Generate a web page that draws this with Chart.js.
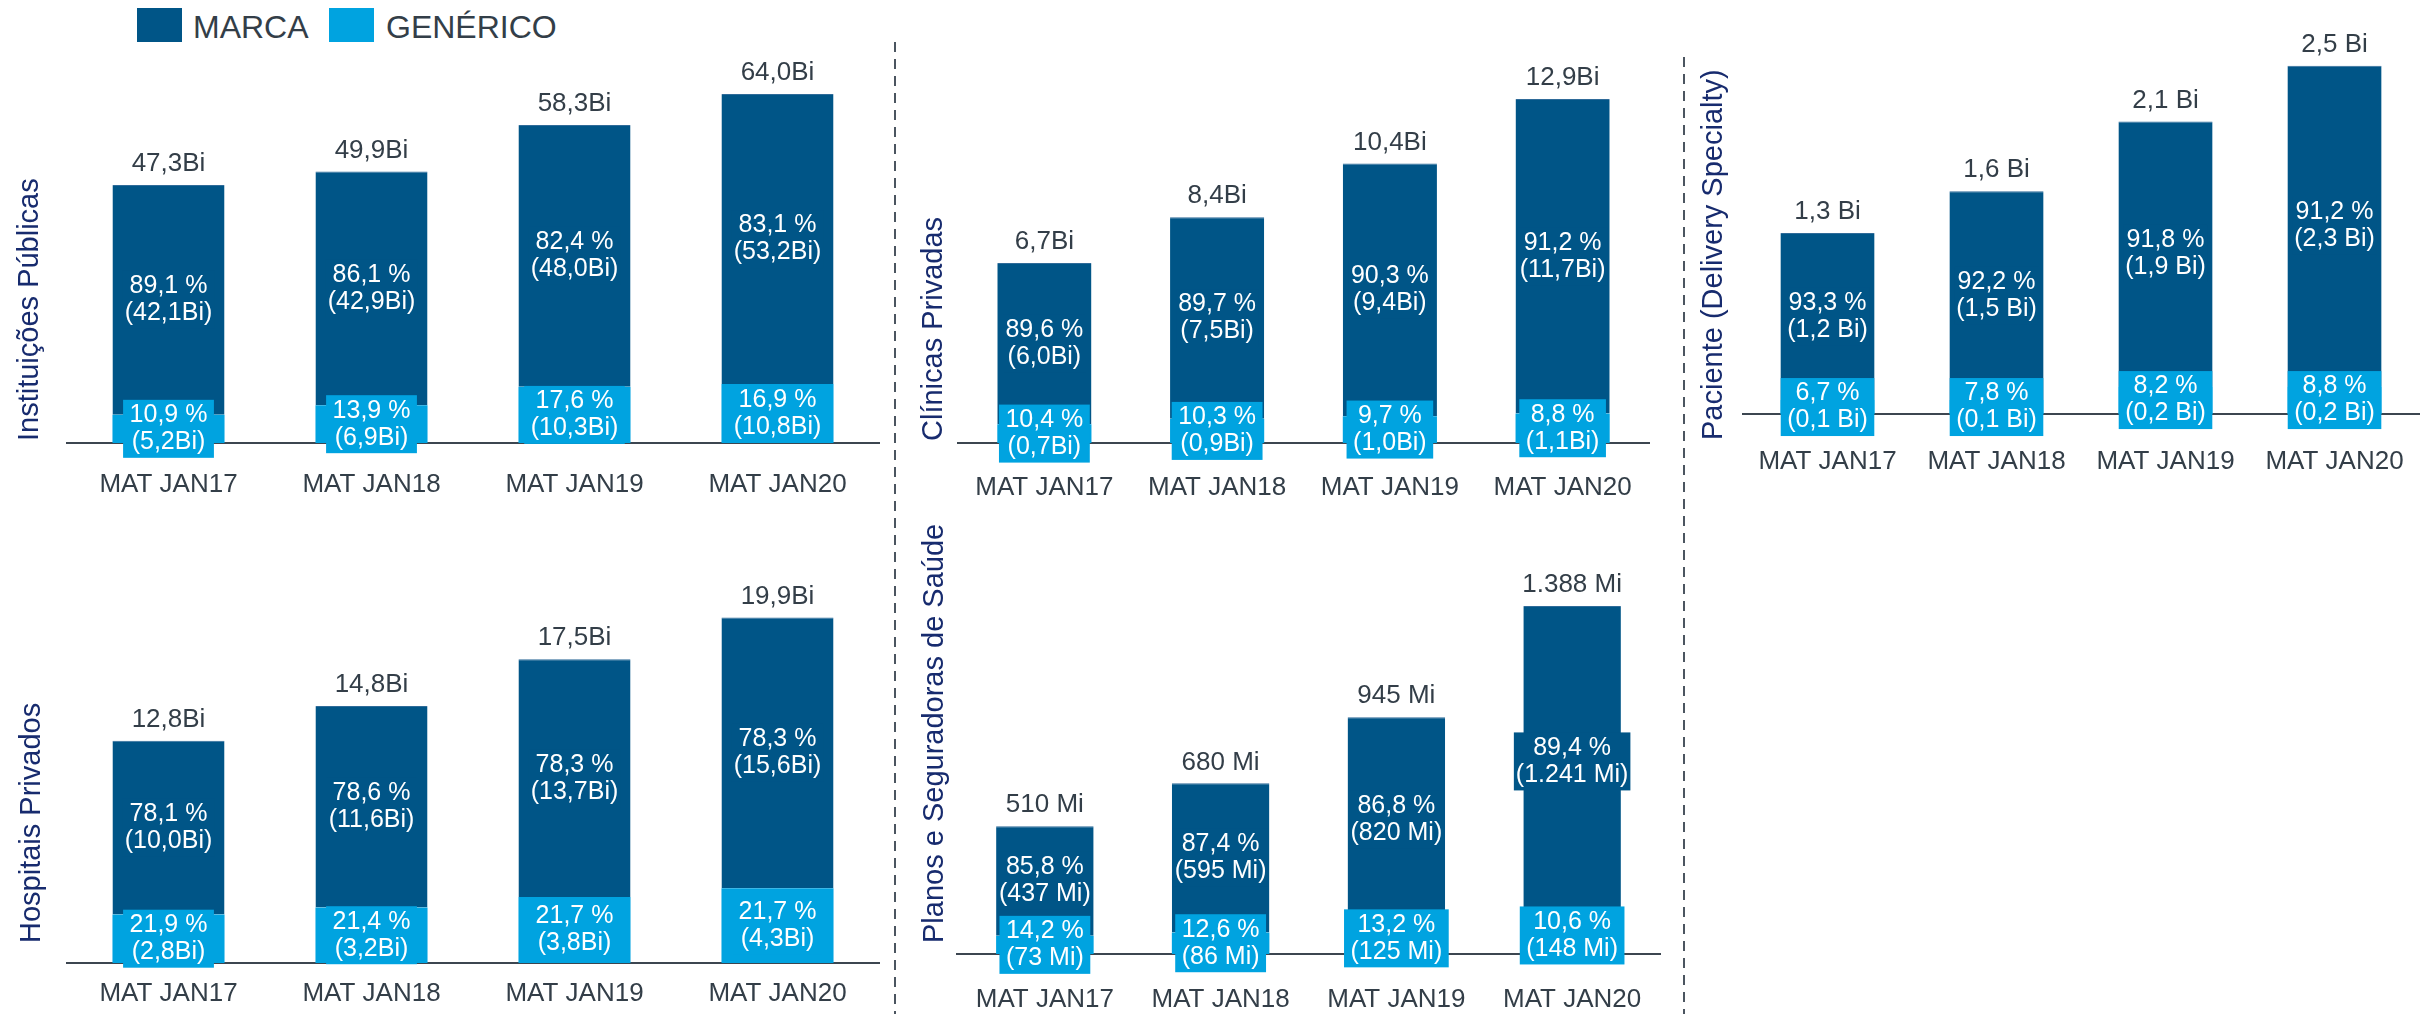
<!DOCTYPE html>
<html>
<head>
<meta charset="utf-8">
<script src="https://cdn.jsdelivr.net/npm/chart.js@4.4.1/dist/chart.umd.min.js"></script>
<style>
    html, body { margin: 0; padding: 0; background: #ffffff; }
    body { position: relative; width: 2427px; height: 1014px; overflow: hidden; font-family: 'Liberation Sans', Arial, sans-serif; }
    canvas { position: absolute; }
    .legend-box { position: absolute; top: 8px; width: 45px; height: 34px; }
    .legend-text { position: absolute; top: 11px; font-size: 32px; line-height: 32px; color: #333e48; white-space: nowrap; }
    svg { position: absolute; left: 0; top: 0; }
</style>
</head>
<body>

<div class="legend-box" style="left:137px; background:#005587;"></div>
<div class="legend-text" style="left:193px;">MARCA</div>
<div class="legend-box" style="left:329px; background:#00a3e0;"></div>
<div class="legend-text" style="left:386px;">GENÉRICO</div>

<svg width="2427" height="1014">
    <line x1="895" y1="42" x2="895" y2="1014" stroke="#4b5560" stroke-width="2" stroke-dasharray="10 7" />
    <line x1="1684" y1="57" x2="1684" y2="1014" stroke="#4b5560" stroke-width="2" stroke-dasharray="10 7" />
</svg>

<canvas id="chart-publicas" width="895" height="500" style="left:0px; top:0px;"></canvas>
<canvas id="chart-hospitais" width="895" height="514" style="left:0px; top:500px;"></canvas>
<canvas id="chart-clinicas" width="786" height="505" style="left:897px; top:0px;"></canvas>
<canvas id="chart-planos" width="786" height="514" style="left:897px; top:500px;"></canvas>
<canvas id="chart-paciente" width="750" height="500" style="left:1686px; top:0px;"></canvas>

<script>
const CATEGORIES = ['MAT JAN17', 'MAT JAN18', 'MAT JAN19', 'MAT JAN20'];

// Instituições Públicas (Bi)
const pubTotal = [47.3, 49.9, 58.3, 64.0];
const pubMarca = [42.1, 42.9, 48.0, 53.2];
const pubGenerico = [5.2, 6.9, 10.3, 10.8];
const pubMarcaPct = [89.1, 86.1, 82.4, 83.1];
const pubGenericoPct = [10.9, 13.9, 17.6, 16.9];

// Hospitais Privados (Bi)
const hosTotal = [12.8, 14.8, 17.5, 19.9];
const hosMarca = [10.0, 11.6, 13.7, 15.6];
const hosGenerico = [2.8, 3.2, 3.8, 4.3];
const hosMarcaPct = [78.1, 78.6, 78.3, 78.3];
const hosGenericoPct = [21.9, 21.4, 21.7, 21.7];

// Clínicas Privadas (Bi)
const cliTotal = [6.7, 8.4, 10.4, 12.9];
const cliMarca = [6.0, 7.5, 9.4, 11.7];
const cliGenerico = [0.7, 0.9, 1.0, 1.1];
const cliMarcaPct = [89.6, 89.7, 90.3, 91.2];
const cliGenericoPct = [10.4, 10.3, 9.7, 8.8];

// Planos e Seguradoras de Saúde (Mi)
const plaTotal = [510, 680, 945, 1388];
const plaMarca = [437, 595, 820, 1241];
const plaGenerico = [73, 86, 125, 148];
const plaMarcaPct = [85.8, 87.4, 86.8, 89.4];
const plaGenericoPct = [14.2, 12.6, 13.2, 10.6];

// Paciente (Delivery Specialty) (Bi)
const pacTotal = [1.3, 1.6, 2.1, 2.5];
const pacMarca = [1.2, 1.5, 1.9, 2.3];
const pacGenerico = [0.1, 0.1, 0.2, 0.2];
const pacMarcaPct = [93.3, 92.2, 91.8, 91.2];
const pacGenericoPct = [6.7, 7.8, 8.2, 8.8];

const MARCA_COLOR = '#005587';
const GENERICO_COLOR = '#00a3e0';
const TEXT_COLOR = '#333e48';
const TITLE_COLOR = '#172b6e';
const AXIS_COLOR = '#3c4650';
const FONT_FAMILY = "'Liberation Sans', Arial, sans-serif";
const LABEL_FONT = '25px ' + FONT_FAMILY;
const TOTAL_FONT = '26px ' + FONT_FAMILY;

const dec1 = v => v.toFixed(1).replace('.', ',');
const pct = v => dec1(v) + ' %';
const bi = v => dec1(v) + 'Bi';
const biSpaced = v => dec1(v) + ' Bi';
const mi = v => String(v).replace(/\B(?=(\d{3})+(?!\d))/g, '.') + ' Mi';

function drawLabelBox(ctx, lines, cx, cy, color, pad) {
    ctx.font = LABEL_FONT;
    const w = Math.max(...lines.map(t => ctx.measureText(t).width)) + pad;
    const h = 58;
    ctx.fillStyle = color;
    ctx.fillRect(cx - w / 2, cy - h / 2, w, h);
    ctx.fillStyle = '#ffffff';
    ctx.textAlign = 'center';
    ctx.textBaseline = 'middle';
    ctx.fillText(lines[0], cx, cy - 13.5);
    ctx.fillText(lines[1], cx, cy + 13.5);
}

function makePanel(id, cfg) {
    const canvas = document.getElementById(id);
    if (!canvas) return;
    const ctx = canvas.getContext('2d');

    const labelsPlugin = {
        id: 'segmentLabels',
        afterDatasetsDraw(chart) {
            const c = chart.ctx;
            const genMeta = chart.getDatasetMeta(0);
            const marMeta = chart.getDatasetMeta(1);
            c.save();
            // marca labels first, genérico boxes lie over them
            marMeta.data.forEach((el, i) => {
                const cy = (el.y + el.base) / 2;
                drawLabelBox(c, [pct(cfg.marcaPct[i]), '(' + cfg.fmt(cfg.marca[i]) + ')'], el.x, cy, MARCA_COLOR, 4);
            });
            genMeta.data.forEach((el, i) => {
                const cy = (el.y + el.base) / 2;
                drawLabelBox(c, [pct(cfg.genericoPct[i]), '(' + cfg.fmt(cfg.generico[i]) + ')'], el.x, cy, GENERICO_COLOR, 13);
            });
            // totals above the bars
            c.font = TOTAL_FONT;
            c.fillStyle = TEXT_COLOR;
            c.textAlign = 'center';
            c.textBaseline = 'middle';
            marMeta.data.forEach((el, i) => {
                c.fillText(cfg.fmt(cfg.total[i]), el.x, el.y - 21);
            });
            c.restore();
        },
        afterDraw(chart) {
            const c = chart.ctx;
            c.save();
            c.translate(cfg.titleX, cfg.titleBottom);
            c.rotate(-Math.PI / 2);
            c.font = '29px ' + FONT_FAMILY;
            c.fillStyle = TITLE_COLOR;
            c.textAlign = 'left';
            c.textBaseline = 'alphabetic';
            c.fillText(cfg.title, 0, 0);
            c.restore();
        }
    };

    return new Chart(ctx, {
        type: 'bar',
        data: {
            labels: CATEGORIES,
            datasets: [{
                label: 'GENÉRICO',
                data: cfg.generico,
                backgroundColor: GENERICO_COLOR,
                borderWidth: 0
            }, {
                label: 'MARCA',
                data: cfg.marca,
                backgroundColor: MARCA_COLOR,
                borderColor: '#2f6b99',
                borderWidth: { top: 1, left: 0, right: 0, bottom: 0 },
                borderSkipped: 'bottom'
            }]
        },
        options: {
            responsive: false,
            animation: false,
            devicePixelRatio: 1,
            layout: { padding: cfg.padding },
            datasets: {
                bar: {
                    categoryPercentage: 1,
                    barPercentage: cfg.barPct
                }
            },
            plugins: {
                legend: { display: false },
                tooltip: { enabled: false }
            },
            scales: {
                x: {
                    stacked: true,
                    grid: { display: false, drawTicks: false },
                    border: { display: true, color: AXIS_COLOR, width: 2 },
                    ticks: {
                        color: TEXT_COLOR,
                        padding: cfg.tickPadding,
                        maxRotation: 0,
                        autoSkip: false,
                        font: { family: FONT_FAMILY, size: 26 }
                    },
                    afterFit: (scale) => { scale.height = cfg.axisHeight; }
                },
                y: {
                    stacked: true,
                    display: false,
                    min: 0,
                    max: cfg.yMax
                }
            }
        },
        plugins: [labelsPlugin]
    });
}

makePanel('chart-publicas', {
    title: 'Instituições Públicas', titleX: 38, titleBottom: 441,
    total: pubTotal, marca: pubMarca, generico: pubGenerico,
    marcaPct: pubMarcaPct, genericoPct: pubGenericoPct, fmt: bi,
    yMax: 75, barPct: 0.552, tickPadding: 26, axisHeight: 57,
    padding: { left: 67, right: 16, top: 34, bottom: 0 }
});

makePanel('chart-hospitais', {
    title: 'Hospitais Privados', titleX: 40, titleBottom: 443,
    total: hosTotal, marca: hosMarca, generico: hosGenerico,
    marcaPct: hosMarcaPct, genericoPct: hosGenericoPct, fmt: bi,
    yMax: 25, barPct: 0.552, tickPadding: 15, axisHeight: 51,
    padding: { left: 67, right: 16, top: 29, bottom: 0 }
});

makePanel('chart-clinicas', {
    title: 'Clínicas Privadas', titleX: 45, titleBottom: 441,
    total: cliTotal, marca: cliMarca, generico: cliGenerico,
    marcaPct: cliMarcaPct, genericoPct: cliGenericoPct, fmt: bi,
    yMax: 15, barPct: 0.545, tickPadding: 29, axisHeight: 62,
    padding: { left: 61, right: 34, top: 40, bottom: 0 }
});

makePanel('chart-planos', {
    title: 'Planos e Seguradoras de Saúde', titleX: 46, titleBottom: 443,
    total: plaTotal, marca: plaMarca, generico: plaGenerico,
    marcaPct: plaMarcaPct, genericoPct: plaGenericoPct, fmt: mi,
    yMax: 1700, barPct: 0.555, tickPadding: 30, axisHeight: 60,
    padding: { left: 60, right: 23, top: 28, bottom: 0 }
});

makePanel('chart-paciente', {
    title: 'Paciente (Delivery Specialty)', titleX: 36, titleBottom: 440,
    total: pacTotal, marca: pacMarca, generico: pacGenerico,
    marcaPct: pacMarcaPct, genericoPct: pacGenericoPct, fmt: biSpaced,
    yMax: 2.8, barPct: 0.557, tickPadding: 32, axisHeight: 86,
    padding: { left: 57, right: 3, top: 24, bottom: 0 }
});
</script>
</body>
</html>
